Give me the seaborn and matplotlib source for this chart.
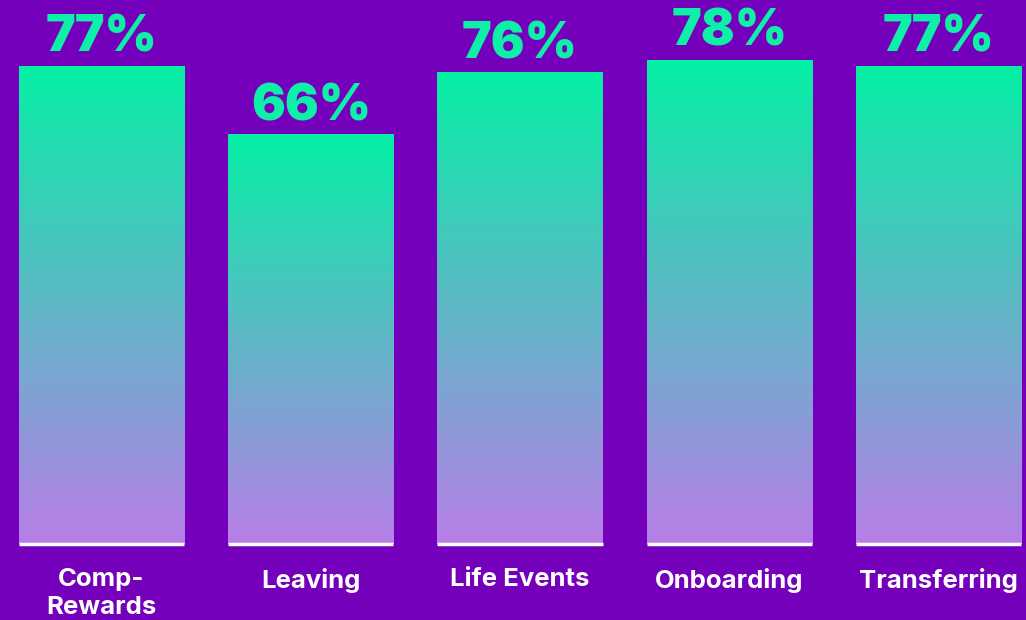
import matplotlib
matplotlib.use("Agg")
import matplotlib.pyplot as plt
import numpy as np
import pandas as pd
import seaborn as sns
from matplotlib.colors import LinearSegmentedColormap

categories = ["Comp-\nRewards", "Leaving", "Life Events", "Onboarding", "Transferring"]
values = [77, 66, 76, 78, 77]
value_labels = ["77%", "66%", "76%", "78%", "77%"]

BG = "#7400BC"
TOP = "#05F0A5"
BOTTOM = "#B87EE8"

sns.set_theme(style="white")
plt.rcParams["font.family"] = ["Inter", "DejaVu Sans"]

df = pd.DataFrame({"cat": categories, "val": values})

fig = plt.figure(figsize=(10.26, 6.2), dpi=100, facecolor=BG)
ax = fig.add_axes([0, 76 / 620, 1, 544 / 620])
ax.set_facecolor(BG)

sns.barplot(data=df, x="cat", y="val", ax=ax, width=0.79, color=TOP,
            saturation=1, edgecolor="none", linewidth=0)

ax.set_xlim(-0.485, 4.418)
ax.set_ylim(0, 87.6)

cmap = LinearSegmentedColormap.from_list("g", [BOTTOM, TOP])
grad = np.linspace(0, 1, 256).reshape(-1, 1)
for p, lab in zip(ax.patches, value_labels):
    x0, y0 = p.get_x(), p.get_y()
    w, h = p.get_width(), p.get_height()
    p.set_facecolor("none")
    im = ax.imshow(grad, cmap=cmap, origin="lower", aspect="auto",
                   extent=[x0, x0 + w, y0, y0 + h], zorder=2)
    im.set_clip_path(p)
    ax.plot([x0, x0 + w], [0, 0], color="white", lw=2.5, zorder=3,
            solid_capstyle="butt", clip_on=False)
    ax.annotate(lab, (x0 + w / 2, y0 + h), xytext=(0, 10), textcoords="offset points",
                ha="center", va="baseline", color="#0DF0A8", fontsize=36,
                fontweight="black")

ax.set_xlim(-0.485, 4.418)
ax.set_ylim(0, 87.6)
ax.set_xlabel("")
ax.set_ylabel("")
ax.set_yticks([])
ax.tick_params(axis="x", length=0, pad=17, labelsize=18.5, labelcolor="white")
for t in ax.get_xticklabels():
    t.set_fontweight("bold")
    t.set_linespacing(1.3)
for s in ax.spines.values():
    s.set_visible(False)

fig.savefig("out.png", dpi=100, facecolor=BG)
